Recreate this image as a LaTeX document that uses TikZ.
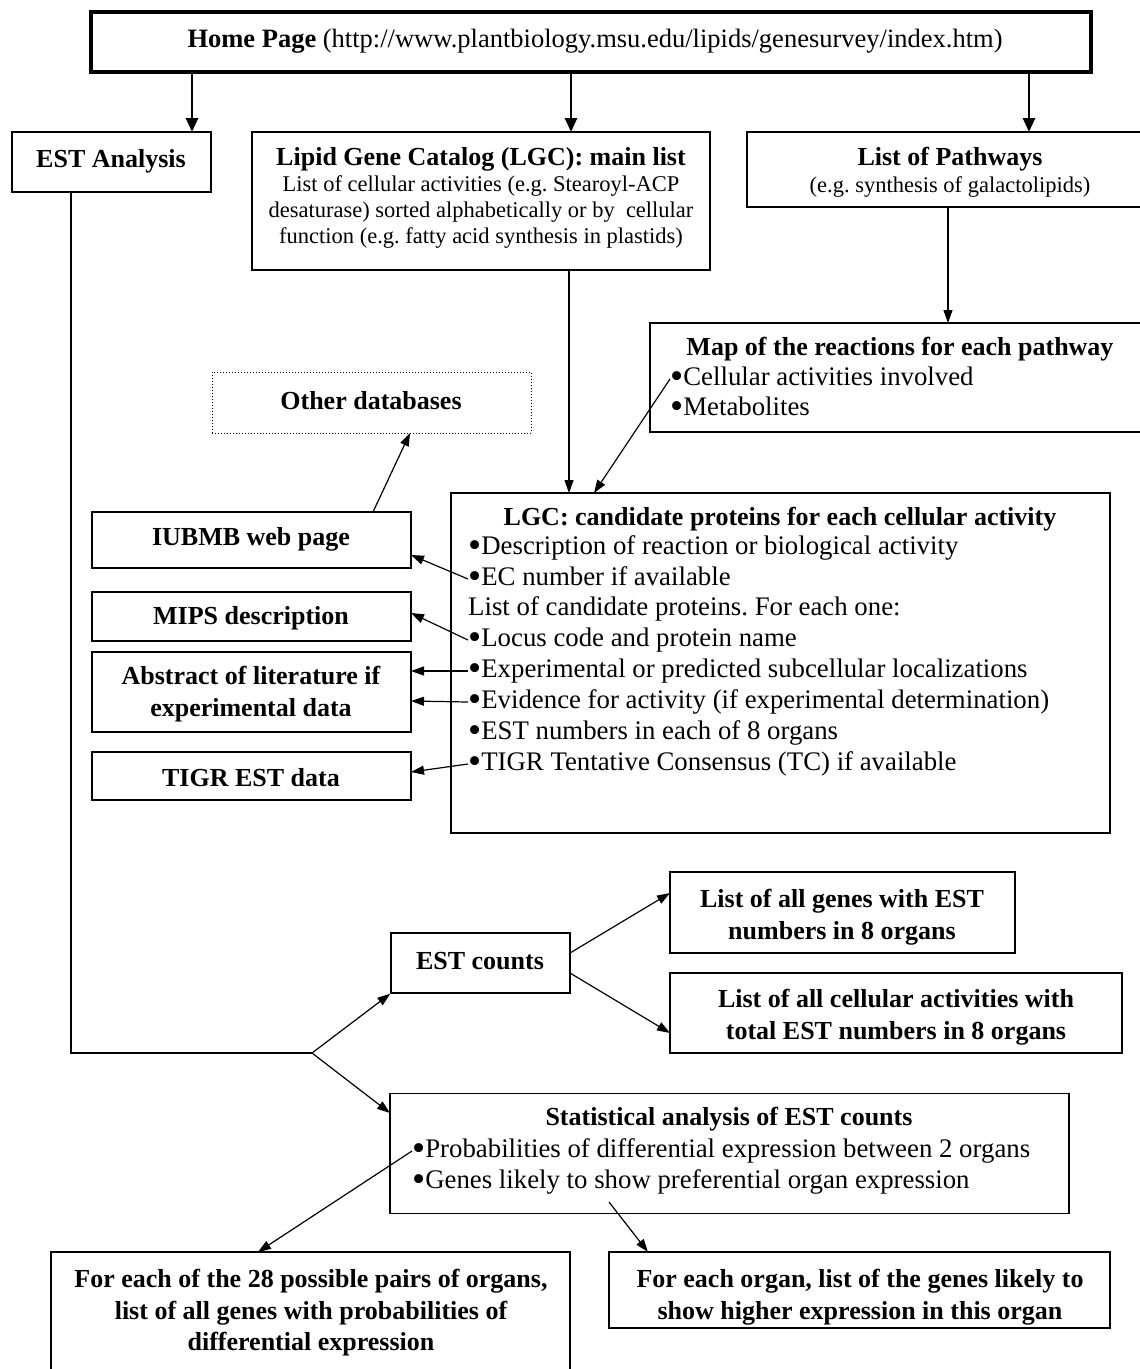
\documentclass[tikz,border=0pt]{standalone}
\usepackage{fontspec}
\usepackage{graphicx}
\setmainfont{Liberation Serif}
\usetikzlibrary{arrows.meta}
\newcommand{\mybul}{\raisebox{-0.13em}{\scalebox{1.4}{\textbullet}}}
\begin{document}
\frenchspacing
\begin{tikzpicture}[x=1pt,y=-1pt,
  box/.style={draw, line width=1.4pt, inner sep=0},
  homebox/.style={draw, line width=3.6pt, inner sep=0},
  dotbox/.style={draw, line width=1pt, dotted, inner sep=0},
  tb/.style={inner sep=0, font=\fontsize{26}{31.5}\selectfont\bfseries, align=center},
  tr/.style={inner sep=0, font=\fontsize{26.8}{31}\selectfont, text height=18pt, text depth=6pt},
  ts/.style={inner sep=0, font=\fontsize{22.5}{26}\selectfont, align=center},
  thickarr/.style={line width=2.6pt, -{Triangle[length=14pt,width=12pt]}},
  arr/.style={line width=1.2pt, -{Triangle[length=13pt,width=9pt]}},
  plain/.style={line width=1.2pt}]
\clip (0,0) rectangle (1140,1369);
\fill[white] (0,0) rectangle (1140,1369);

% ---------- boxes ----------
\node[homebox, minimum width=1000pt, minimum height=60pt] (home) at (591,42) {};
\node[box, minimum width=199pt, minimum height=60pt] (est) at (111.5,162) {};
\node[box, minimum width=458pt, minimum height=138pt] (lgcmain) at (481,201) {};
\node[box, minimum width=403pt, minimum height=75pt] (path) at (948.5,169.5) {};
\node[box, minimum width=500pt, minimum height=109pt] (map) at (900,377.5) {};
\node[dotbox, minimum width=319pt, minimum height=61pt] (other) at (371.5,402.5) {};
\node[box, minimum width=319pt, minimum height=56pt] (iubmb) at (251.5,540) {};
\node[box, minimum width=659pt, minimum height=340pt] (lgc) at (780.5,663) {};
\node[box, minimum width=319pt, minimum height=49pt] (mips) at (251.5,616.5) {};
\node[box, minimum width=319pt, minimum height=80pt] (abs) at (251.5,692) {};
\node[box, minimum width=319pt, minimum height=48pt] (tigr) at (251.5,776) {};
\node[box, minimum width=179pt, minimum height=60pt] (estc) at (480.5,963) {};
\node[box, minimum width=345pt, minimum height=81pt] (genes) at (842.5,912.5) {};
\node[box, minimum width=452pt, minimum height=80pt] (cell) at (896,1013) {};
\node[box, minimum width=679pt, minimum height=120pt] (stat) at (729.5,1153.5) {};
\node[box, minimum width=519pt, minimum height=128pt] (pairs) at (310.5,1316) {};
\node[box, minimum width=501pt, minimum height=76pt] (organ) at (859.5,1290) {};

% ---------- texts ----------
\node[inner sep=0, font=\fontsize{26.5}{31}\selectfont] (homeT) at (595,41)
  {\textbf{Home Page} (http://www.plantbiology.msu.edu/lipids/genesurvey/index.htm)};
\node[tb] (estT) at (111,161) {EST Analysis};
\node[tb] (lgcmainT) at (481,159) {Lipid Gene Catalog (LGC): main list};
\node[ts] (lgcmainL1) at (481,186) {List of cellular activities (e.g. Stearoyl-ACP};
\node[ts] (lgcmainL2) at (481,212) {desaturase) sorted alphabetically or by~ cellular};
\node[ts] (lgcmainL3) at (481,238) {function (e.g. fatty acid synthesis in plastids)};
\node[tb] (pathT) at (950,159) {List of Pathways};
\node[ts] (pathS) at (950,187) {(e.g. synthesis of galactolipids)};
\node[tb] (mapT) at (900,349) {Map of the reactions for each pathway};
\node[tr, anchor=west] (mapL1) at (670,379) {\mybul Cellular activities involved};
\node[tr, anchor=west] (mapL2) at (670,409) {\mybul Metabolites};
\node[tb] (otherT) at (371,401) {Other databases};
\node[tb] (iubmbT) at (251,539) {IUBMB web page};
\node[tb] (mipsT) at (251,618) {MIPS description};
\node[tb] (absT) at (251,694) {Abstract of literature if\\experimental data};
\node[tb] (tigrT) at (251,778) {TIGR EST data};
\node[tb] (lgcT) at (780,519) {LGC: candidate proteins for each cellular activity};
\node[tr, anchor=west] (lgcL1) at (468,548) {\mybul Description of reaction or biological activity};
\node[tr, anchor=west] (lgcL2) at (468,579) {\mybul EC number if available};
\node[tr, anchor=west] (lgcL3) at (468,609) {List of candidate proteins. For each one:};
\node[tr, anchor=west] (lgcL4) at (468,640) {\mybul Locus code and protein name};
\node[tr, anchor=west] (lgcL5) at (468,671) {\mybul Experimental or predicted subcellular localizations};
\node[tr, anchor=west] (lgcL6) at (468,702) {\mybul Evidence for activity (if experimental determination)};
\node[tr, anchor=west] (lgcL7) at (468,733) {\mybul EST numbers in each of 8 organs};
\node[tr, anchor=west] (lgcL8) at (468,764) {\mybul TIGR Tentative Consensus (TC) if available};
\node[tb] (estcT) at (480,961) {EST counts};
\node[tb] (genesT) at (842,917) {List of all genes with EST\\numbers in 8 organs};
\node[tb] (cellT) at (896,1017) {List of all cellular activities with\\total EST numbers in 8 organs};
\node[tb] (statT) at (729,1119) {Statistical analysis of EST counts};
\node[tr, anchor=west] (statL1) at (412,1151) {\mybul Probabilities of differential expression between 2 organs};
\node[tr, anchor=west] (statL2) at (412,1182) {\mybul Genes likely to show preferential organ expression};
\node[tb] (pairsT) at (311,1313) {For each of the 28 possible pairs of organs,\\list of all genes with probabilities of\\differential expression};
\node[tb] (organT) at (860,1297) {For each organ, list of the genes likely to\\show higher expression in this organ};

% ---------- connector points ----------
\coordinate (h1) at (192,72);   \coordinate (h1e) at (192,132);
\coordinate (h2) at (571,72);   \coordinate (h2e) at (571,132);
\coordinate (h3) at (1029,72);  \coordinate (h3e) at (1029,132);
\coordinate (estout) at (71,192);
\coordinate (estcorner) at (71,1053);
\coordinate (j) at (312,1053);
\coordinate (statin) at (390,1113);
\coordinate (lgcmout) at (569,270);
\coordinate (lgcin1) at (569,493);
\coordinate (lgcin2) at (594,493);
\coordinate (pathout) at (948,207);
\coordinate (mapin) at (948,323);
\coordinate (iubout) at (373,512);
\coordinate (otherin) at (410,433);
\coordinate (iubin) at (411,555);
\coordinate (mipsin) at (411,613);
\coordinate (absin1) at (411,671);
\coordinate (absin2) at (411,701);
\coordinate (tigrin) at (411,772);
\coordinate (estcout1) at (570,953);
\coordinate (genesin) at (670,893);
\coordinate (estcout2) at (570,973);
\coordinate (cellin) at (670,1033);
\coordinate (pairsin) at (258,1252);
\coordinate (showpt) at (609,1202);
\coordinate (organin) at (648,1252);

% ---------- connectors ----------
\draw[thickarr] (h1) -- (h1e);
\draw[thickarr] (h2) -- (h2e);
\draw[thickarr] (h3) -- (h3e);
\draw[plain] (estout) -- (estcorner) -- (j);
\draw[arr] (j) -- (estc.south west);
\draw[arr] (j) -- (statin);
\draw[arr] (lgcmout) -- (lgcin1);
\draw[arr] (pathout) -- (mapin);
\draw[arr] (mapL1.west) -- (lgcin2);
\draw[arr] (iubout) -- (otherin);
\draw[arr] (lgcL2.west) -- (iubin);
\draw[arr] (lgcL4.west) -- (mipsin);
\draw[arr] (lgcL5.west) -- (absin1);
\draw[arr] (lgcL6.west) -- (absin2);
\draw[arr] (lgcL8.west) -- (tigrin);
\draw[arr] (estcout1) -- (genesin);
\draw[arr] (estcout2) -- (cellin);
\draw[arr] (statL1.west) -- (pairsin);
\draw[arr] (showpt) -- (organin);
\end{tikzpicture}
\end{document}
